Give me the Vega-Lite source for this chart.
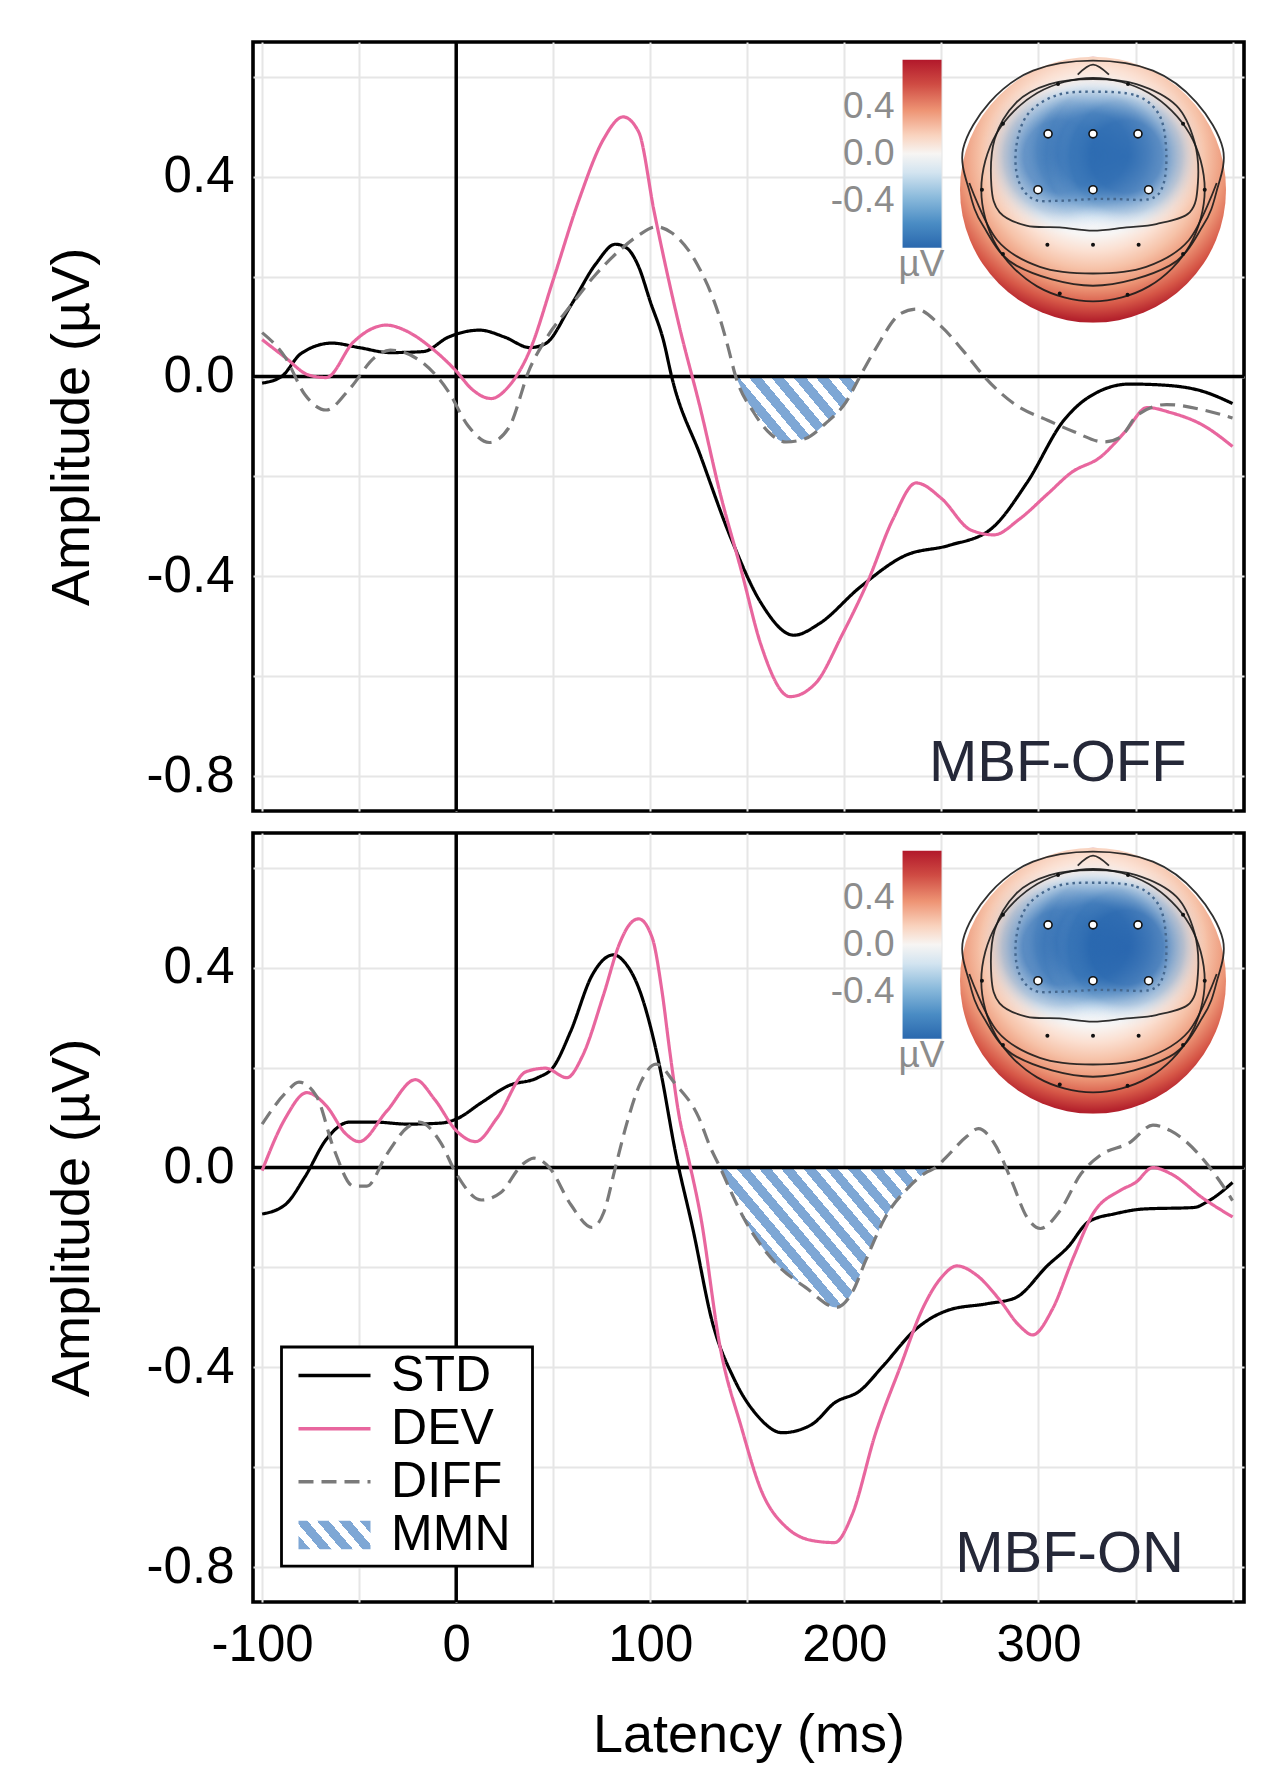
{
  "$schema": "https://vega.github.io/schema/vega-lite/v6.json",
  "background": "white",
  "padding": {"left": 43, "top": 38, "right": 34, "bottom": 28},
  "config": {
    "font": "Liberation Sans",
    "view": {"stroke": "#000000", "strokeWidth": 3.6},
    "axis": {
      "grid": true, "gridColor": "#e6e6e6", "gridWidth": 2,
      "domain": false, "ticks": false, "tickSize": 0,
      "labelFont": "Liberation Sans", "labelFontSize": 51, "labelColor": "#000000",
      "titleFont": "Liberation Sans", "titleFontSize": 54, "titleFontWeight": "normal", "titleColor": "#000000",
      "labelOverlap": false, "labelFlush": false
    }
  },
  "datasets": {
    "off": [
      {"s":"STD","t":-100,"v":-0.013},{"s":"STD","t":-90,"v":0.0},{"s":"STD","t":-80,"v":0.046},{"s":"STD","t":-64,"v":0.067},{"s":"STD","t":-50,"v":0.058},{"s":"STD","t":-34,"v":0.048},{"s":"STD","t":-17,"v":0.05},{"s":"STD","t":-4,"v":0.079},{"s":"STD","t":12,"v":0.093},{"s":"STD","t":25,"v":0.079},{"s":"STD","t":38,"v":0.058},{"s":"STD","t":46,"v":0.066},{"s":"STD","t":59,"v":0.142},{"s":"STD","t":72,"v":0.226},{"s":"STD","t":82,"v":0.265},{"s":"STD","t":88,"v":0.257},{"s":"STD","t":94,"v":0.22},{"s":"STD","t":100,"v":0.15},{"s":"STD","t":107,"v":0.069},{"s":"STD","t":111,"v":0.0},{"s":"STD","t":126,"v":-0.16},{"s":"STD","t":142,"v":-0.328},{"s":"STD","t":157,"v":-0.453},{"s":"STD","t":174,"v":-0.518},{"s":"STD","t":187,"v":-0.495},{"s":"STD","t":208,"v":-0.422},{"s":"STD","t":231,"v":-0.359},{"s":"STD","t":254,"v":-0.338},{"s":"STD","t":275,"v":-0.307},{"s":"STD","t":294,"v":-0.213},{"s":"STD","t":313,"v":-0.088},{"s":"STD","t":326,"v":-0.041},{"s":"STD","t":347,"v":-0.015},{"s":"STD","t":364,"v":-0.017},{"s":"STD","t":385,"v":-0.03},{"s":"STD","t":400,"v":-0.054},
      {"s":"DEV","t":-100,"v":0.074},{"s":"DEV","t":-88,"v":0.038},{"s":"DEV","t":-76,"v":0.003},{"s":"DEV","t":-67,"v":-0.002},{"s":"DEV","t":-53,"v":0.069},{"s":"DEV","t":-36,"v":0.103},{"s":"DEV","t":-25,"v":0.09},{"s":"DEV","t":-13,"v":0.058},{"s":"DEV","t":0,"v":0.011},{"s":"DEV","t":8,"v":-0.025},{"s":"DEV","t":18,"v":-0.044},{"s":"DEV","t":27,"v":-0.02},{"s":"DEV","t":38,"v":0.053},{"s":"DEV","t":50,"v":0.194},{"s":"DEV","t":63,"v":0.351},{"s":"DEV","t":76,"v":0.476},{"s":"DEV","t":86,"v":0.52},{"s":"DEV","t":94,"v":0.49},{"s":"DEV","t":102,"v":0.33},{"s":"DEV","t":115,"v":0.1},{"s":"DEV","t":126,"v":-0.067},{"s":"DEV","t":136,"v":-0.234},{"s":"DEV","t":147,"v":-0.39},{"s":"DEV","t":157,"v":-0.537},{"s":"DEV","t":172,"v":-0.641},{"s":"DEV","t":185,"v":-0.615},{"s":"DEV","t":199,"v":-0.516},{"s":"DEV","t":212,"v":-0.411},{"s":"DEV","t":225,"v":-0.286},{"s":"DEV","t":237,"v":-0.213},{"s":"DEV","t":250,"v":-0.244},{"s":"DEV","t":265,"v":-0.307},{"s":"DEV","t":277,"v":-0.317},{"s":"DEV","t":290,"v":-0.286},{"s":"DEV","t":305,"v":-0.234},{"s":"DEV","t":317,"v":-0.192},{"s":"DEV","t":332,"v":-0.161},{"s":"DEV","t":345,"v":-0.109},{"s":"DEV","t":356,"v":-0.062},{"s":"DEV","t":368,"v":-0.072},{"s":"DEV","t":385,"v":-0.098},{"s":"DEV","t":400,"v":-0.14},
      {"s":"DIFF","t":-100,"v":0.088},{"s":"DIFF","t":-88,"v":0.038},{"s":"DIFF","t":-78,"v":-0.036},{"s":"DIFF","t":-67,"v":-0.067},{"s":"DIFF","t":-55,"v":-0.025},{"s":"DIFF","t":-42,"v":0.038},{"s":"DIFF","t":-34,"v":0.053},{"s":"DIFF","t":-17,"v":0.027},{"s":"DIFF","t":-4,"v":-0.03},{"s":"DIFF","t":6,"v":-0.098},{"s":"DIFF","t":17,"v":-0.132},{"s":"DIFF","t":27,"v":-0.103},{"s":"DIFF","t":38,"v":0.017},{"s":"DIFF","t":46,"v":0.074},{"s":"DIFF","t":59,"v":0.142},{"s":"DIFF","t":72,"v":0.205},{"s":"DIFF","t":84,"v":0.252},{"s":"DIFF","t":94,"v":0.283},{"s":"DIFF","t":103,"v":0.3},{"s":"DIFF","t":111,"v":0.288},{"s":"DIFF","t":124,"v":0.226},{"s":"DIFF","t":136,"v":0.115},{"s":"DIFF","t":140,"v":0.06},{"s":"DIFF","t":144,"v":0.0},{"s":"DIFF","t":153,"v":-0.07},{"s":"DIFF","t":162,"v":-0.115},{"s":"DIFF","t":170,"v":-0.131},{"s":"DIFF","t":180,"v":-0.124},{"s":"DIFF","t":190,"v":-0.095},{"s":"DIFF","t":201,"v":-0.05},{"s":"DIFF","t":208,"v":0.0},{"s":"DIFF","t":216,"v":0.055},{"s":"DIFF","t":229,"v":0.126},{"s":"DIFF","t":237,"v":0.135},{"s":"DIFF","t":250,"v":0.1},{"s":"DIFF","t":262,"v":0.048},{"s":"DIFF","t":273,"v":-0.004},{"s":"DIFF","t":288,"v":-0.056},{"s":"DIFF","t":305,"v":-0.088},{"s":"DIFF","t":318,"v":-0.11},{"s":"DIFF","t":334,"v":-0.131},{"s":"DIFF","t":342,"v":-0.122},{"s":"DIFF","t":351,"v":-0.077},{"s":"DIFF","t":366,"v":-0.056},{"s":"DIFF","t":385,"v":-0.067},{"s":"DIFF","t":400,"v":-0.083}
    ],
    "on": [
      {"s":"STD","t":-100,"v":-0.093},{"s":"STD","t":-88,"v":-0.074},{"s":"STD","t":-78,"v":-0.019},{"s":"STD","t":-67,"v":0.056},{"s":"STD","t":-55,"v":0.091},{"s":"STD","t":-42,"v":0.091},{"s":"STD","t":-25,"v":0.087},{"s":"STD","t":-8,"v":0.089},{"s":"STD","t":0,"v":0.097},{"s":"STD","t":13,"v":0.13},{"s":"STD","t":27,"v":0.164},{"s":"STD","t":42,"v":0.18},{"s":"STD","t":50,"v":0.201},{"s":"STD","t":59,"v":0.273},{"s":"STD","t":70,"v":0.385},{"s":"STD","t":81,"v":0.426},{"s":"STD","t":87,"v":0.41},{"s":"STD","t":94,"v":0.36},{"s":"STD","t":105,"v":0.199},{"s":"STD","t":113,"v":0.03},{"s":"STD","t":122,"v":-0.124},{"s":"STD","t":132,"v":-0.31},{"s":"STD","t":143,"v":-0.422},{"s":"STD","t":155,"v":-0.496},{"s":"STD","t":168,"v":-0.531},{"s":"STD","t":183,"v":-0.515},{"s":"STD","t":195,"v":-0.471},{"s":"STD","t":208,"v":-0.447},{"s":"STD","t":220,"v":-0.397},{"s":"STD","t":237,"v":-0.323},{"s":"STD","t":254,"v":-0.285},{"s":"STD","t":273,"v":-0.273},{"s":"STD","t":288,"v":-0.261},{"s":"STD","t":305,"v":-0.195},{"s":"STD","t":315,"v":-0.16},{"s":"STD","t":326,"v":-0.108},{"s":"STD","t":340,"v":-0.092},{"s":"STD","t":354,"v":-0.083},{"s":"STD","t":380,"v":-0.08},{"s":"STD","t":388,"v":-0.066},{"s":"STD","t":400,"v":-0.03},
      {"s":"DEV","t":-100,"v":-0.006},{"s":"DEV","t":-88,"v":0.099},{"s":"DEV","t":-77,"v":0.15},{"s":"DEV","t":-67,"v":0.124},{"s":"DEV","t":-57,"v":0.068},{"s":"DEV","t":-50,"v":0.052},{"s":"DEV","t":-36,"v":0.112},{"s":"DEV","t":-21,"v":0.176},{"s":"DEV","t":-11,"v":0.136},{"s":"DEV","t":0,"v":0.074},{"s":"DEV","t":10,"v":0.052},{"s":"DEV","t":21,"v":0.099},{"s":"DEV","t":36,"v":0.192},{"s":"DEV","t":46,"v":0.199},{"s":"DEV","t":57,"v":0.18},{"s":"DEV","t":65,"v":0.223},{"s":"DEV","t":76,"v":0.347},{"s":"DEV","t":84,"v":0.447},{"s":"DEV","t":90,"v":0.49},{"s":"DEV","t":94,"v":0.498},{"s":"DEV","t":101,"v":0.46},{"s":"DEV","t":106,"v":0.354},{"s":"DEV","t":110,"v":0.234},{"s":"DEV","t":115,"v":0.1},{"s":"DEV","t":119,"v":0.03},{"s":"DEV","t":126,"v":-0.099},{"s":"DEV","t":136,"v":-0.36},{"s":"DEV","t":147,"v":-0.521},{"s":"DEV","t":157,"v":-0.645},{"s":"DEV","t":170,"v":-0.72},{"s":"DEV","t":185,"v":-0.748},{"s":"DEV","t":195,"v":-0.751},{"s":"DEV","t":204,"v":-0.695},{"s":"DEV","t":216,"v":-0.533},{"s":"DEV","t":229,"v":-0.397},{"s":"DEV","t":240,"v":-0.285},{"s":"DEV","t":250,"v":-0.22},{"s":"DEV","t":258,"v":-0.197},{"s":"DEV","t":268,"v":-0.215},{"s":"DEV","t":280,"v":-0.265},{"s":"DEV","t":290,"v":-0.316},{"s":"DEV","t":297,"v":-0.335},{"s":"DEV","t":307,"v":-0.285},{"s":"DEV","t":318,"v":-0.18},{"s":"DEV","t":328,"v":-0.093},{"s":"DEV","t":342,"v":-0.046},{"s":"DEV","t":350,"v":-0.03},{"s":"DEV","t":359,"v":0.0},{"s":"DEV","t":368,"v":-0.012},{"s":"DEV","t":385,"v":-0.062},{"s":"DEV","t":400,"v":-0.099},
      {"s":"DIFF","t":-100,"v":0.087},{"s":"DIFF","t":-88,"v":0.149},{"s":"DIFF","t":-81,"v":0.171},{"s":"DIFF","t":-72,"v":0.143},{"s":"DIFF","t":-63,"v":0.037},{"s":"DIFF","t":-53,"v":-0.037},{"s":"DIFF","t":-46,"v":-0.037},{"s":"DIFF","t":-36,"v":0.025},{"s":"DIFF","t":-25,"v":0.081},{"s":"DIFF","t":-19,"v":0.091},{"s":"DIFF","t":-8,"v":0.05},{"s":"DIFF","t":0,"v":-0.012},{"s":"DIFF","t":13,"v":-0.065},{"s":"DIFF","t":23,"v":-0.05},{"s":"DIFF","t":34,"v":0.006},{"s":"DIFF","t":40,"v":0.019},{"s":"DIFF","t":48,"v":0.0},{"s":"DIFF","t":59,"v":-0.074},{"s":"DIFF","t":70,"v":-0.12},{"s":"DIFF","t":76,"v":-0.09},{"s":"DIFF","t":82,"v":0.0},{"s":"DIFF","t":88,"v":0.09},{"s":"DIFF","t":95,"v":0.17},{"s":"DIFF","t":103,"v":0.207},{"s":"DIFF","t":113,"v":0.167},{"s":"DIFF","t":125,"v":0.1},{"s":"DIFF","t":131,"v":0.04},{"s":"DIFF","t":136,"v":0.0},{"s":"DIFF","t":140,"v":-0.035},{"s":"DIFF","t":148,"v":-0.1},{"s":"DIFF","t":165,"v":-0.193},{"s":"DIFF","t":180,"v":-0.24},{"s":"DIFF","t":196,"v":-0.28},{"s":"DIFF","t":204,"v":-0.25},{"s":"DIFF","t":211,"v":-0.186},{"s":"DIFF","t":221,"v":-0.1},{"s":"DIFF","t":233,"v":-0.04},{"s":"DIFF","t":242,"v":-0.01},{"s":"DIFF","t":247,"v":0.0},{"s":"DIFF","t":252,"v":0.019},{"s":"DIFF","t":263,"v":0.062},{"s":"DIFF","t":269,"v":0.078},{"s":"DIFF","t":277,"v":0.05},{"s":"DIFF","t":286,"v":-0.025},{"s":"DIFF","t":294,"v":-0.099},{"s":"DIFF","t":301,"v":-0.122},{"s":"DIFF","t":311,"v":-0.087},{"s":"DIFF","t":322,"v":-0.012},{"s":"DIFF","t":332,"v":0.025},{"s":"DIFF","t":347,"v":0.05},{"s":"DIFF","t":359,"v":0.085},{"s":"DIFF","t":368,"v":0.074},{"s":"DIFF","t":383,"v":0.025},{"s":"DIFF","t":393,"v":-0.025},{"s":"DIFF","t":400,"v":-0.066}
    ],
    "head": [
      {"part":"blob","i":0,"hx":-0.25,"hy":0.25},{"part":"blob","i":1,"hx":0,"hy":0.3},{"part":"blob","i":2,"hx":0.25,"hy":0.25},
      {"part":"rim","i":0,"hx":0.84,"hy":0},{"part":"rim","i":1,"hx":0.727,"hy":0.42},{"part":"rim","i":2,"hx":0.42,"hy":0.727},{"part":"rim","i":3,"hx":0,"hy":0.84},{"part":"rim","i":4,"hx":-0.42,"hy":0.727},{"part":"rim","i":5,"hx":-0.727,"hy":0.42},{"part":"rim","i":6,"hx":-0.84,"hy":0},{"part":"rim","i":7,"hx":-0.727,"hy":-0.42},{"part":"rim","i":8,"hx":-0.42,"hy":-0.727},{"part":"rim","i":9,"hx":0,"hy":-0.84},{"part":"rim","i":10,"hx":0.42,"hy":-0.727},{"part":"rim","i":11,"hx":0.727,"hy":-0.42},
      {"part":"outer","i":0,"hx":0,"hy":0.97},{"part":"outer","i":1,"hx":0.451,"hy":0.895},{"part":"outer","i":2,"hx":0.777,"hy":0.657},{"part":"outer","i":3,"hx":0.977,"hy":0.306},{"part":"outer","i":4,"hx":0.927,"hy":-0.02},{"part":"outer","i":5,"hx":0.827,"hy":-0.27},{"part":"outer","i":6,"hx":0.576,"hy":-0.571},{"part":"outer","i":7,"hx":0,"hy":-0.722},{"part":"outer","i":8,"hx":-0.576,"hy":-0.571},{"part":"outer","i":9,"hx":-0.827,"hy":-0.27},{"part":"outer","i":10,"hx":-0.927,"hy":-0.02},{"part":"outer","i":11,"hx":-0.977,"hy":0.306},{"part":"outer","i":12,"hx":-0.777,"hy":0.657},{"part":"outer","i":13,"hx":-0.451,"hy":0.895},
      {"part":"zero","i":0,"hx":-0.764,"hy":0.03},{"part":"zero","i":1,"hx":-0.739,"hy":0.381},{"part":"zero","i":2,"hx":-0.576,"hy":0.657},{"part":"zero","i":3,"hx":-0.326,"hy":0.794},{"part":"zero","i":4,"hx":0,"hy":0.832},{"part":"zero","i":5,"hx":0.326,"hy":0.794},{"part":"zero","i":6,"hx":0.627,"hy":0.632},{"part":"zero","i":7,"hx":0.764,"hy":0.356},{"part":"zero","i":8,"hx":0.789,"hy":0.055},{"part":"zero","i":9,"hx":0.727,"hy":-0.17},{"part":"zero","i":10,"hx":0.476,"hy":-0.258},{"part":"zero","i":11,"hx":0.251,"hy":-0.283},{"part":"zero","i":12,"hx":0,"hy":-0.308},{"part":"zero","i":13,"hx":-0.251,"hy":-0.283},{"part":"zero","i":14,"hx":-0.501,"hy":-0.27},{"part":"zero","i":15,"hx":-0.702,"hy":-0.17},
      {"part":"dotted","i":0,"hx":0,"hy":0.737},{"part":"dotted","i":1,"hx":0.326,"hy":0.707},{"part":"dotted","i":2,"hx":0.501,"hy":0.556},{"part":"dotted","i":3,"hx":0.551,"hy":0.281},{"part":"dotted","i":4,"hx":0.526,"hy":0.03},{"part":"dotted","i":5,"hx":0.426,"hy":-0.07},{"part":"dotted","i":6,"hx":0.175,"hy":-0.07},{"part":"dotted","i":7,"hx":0,"hy":-0.07},{"part":"dotted","i":8,"hx":-0.251,"hy":-0.083},{"part":"dotted","i":9,"hx":-0.451,"hy":-0.07},{"part":"dotted","i":10,"hx":-0.564,"hy":0.08},{"part":"dotted","i":11,"hx":-0.576,"hy":0.331},{"part":"dotted","i":12,"hx":-0.489,"hy":0.569},{"part":"dotted","i":13,"hx":-0.276,"hy":0.709},
      {"part":"lower","i":0,"hx":-0.93,"hy":0.05},{"part":"lower","i":1,"hx":-0.72,"hy":-0.38},{"part":"lower","i":2,"hx":-0.4,"hy":-0.58},{"part":"lower","i":3,"hx":0,"hy":-0.63},{"part":"lower","i":4,"hx":0.4,"hy":-0.58},{"part":"lower","i":5,"hx":0.72,"hy":-0.38},{"part":"lower","i":6,"hx":0.93,"hy":0.05},
      {"part":"nose","i":0,"hx":-0.115,"hy":0.865},{"part":"nose","i":1,"hx":0,"hy":0.94},{"part":"nose","i":2,"hx":0.12,"hy":0.865},
      {"part":"site_white","i":0,"hx":-0.338,"hy":0.42},{"part":"site_white","i":1,"hx":0,"hy":0.42},{"part":"site_white","i":2,"hx":0.338,"hy":0.42},{"part":"site_white","i":3,"hx":-0.414,"hy":0},{"part":"site_white","i":4,"hx":0,"hy":0},{"part":"site_white","i":5,"hx":0.418,"hy":0},
      {"part":"site","i":0,"hx":-0.263,"hy":0.795},{"part":"site","i":1,"hx":0.263,"hy":0.795},{"part":"site","i":2,"hx":-0.677,"hy":0.496},{"part":"site","i":3,"hx":0.677,"hy":0.496},{"part":"site","i":4,"hx":-0.835,"hy":0},{"part":"site","i":5,"hx":0.84,"hy":0},{"part":"site","i":6,"hx":-0.343,"hy":-0.414},{"part":"site","i":7,"hx":0,"hy":-0.414},{"part":"site","i":8,"hx":0.343,"hy":-0.414},{"part":"site","i":9,"hx":-0.677,"hy":-0.484},{"part":"site","i":10,"hx":0.677,"hy":-0.484},{"part":"site","i":11,"hx":-0.25,"hy":-0.78},{"part":"site","i":12,"hx":0.26,"hy":-0.79}
    ],
    "cbar": [
      {"v":0.4,"lab":"0.4"},{"v":0,"lab":"0.0"},{"v":-0.4,"lab":"-0.4"}
    ],
    "keys": [
      {"s":"STD","k":0},{"s":"DEV","k":1},{"s":"DIFF","k":2},{"s":"MMN","k":3}
    ]
  },
  "spacing": 22,
  "bounds": "flush",
  "resolve": {
    "scale": {"x":"independent","y":"independent","color":"independent","strokeDash":"independent"},
    "axis": {"x":"independent","y":"independent"}
  },
  "vconcat": [
    {
      "width": 991, "height": 769,
      "resolve": {"scale": {"x":"independent","y":"independent"}},
      "layer": [
        {
          "data": {"name": "off"},
          "transform": [{"filter": "datum.s === 'DIFF' && datum.t >= 144 && datum.t <= 208"}],
          "mark": {"type":"area","interpolate":"monotone","fill":{"gradient":"linear","x1":0,"y1":1,"x2":1.206,"y2":0.469,"stops":[
            {"offset":0,"color":"#7ea7d5"},{"offset":0.069,"color":"#7ea7d5"},{"offset":0.069,"color":"#ffffff"},{"offset":0.125,"color":"#ffffff"},
            {"offset":0.125,"color":"#7ea7d5"},{"offset":0.194,"color":"#7ea7d5"},{"offset":0.194,"color":"#ffffff"},{"offset":0.25,"color":"#ffffff"},
            {"offset":0.25,"color":"#7ea7d5"},{"offset":0.319,"color":"#7ea7d5"},{"offset":0.319,"color":"#ffffff"},{"offset":0.375,"color":"#ffffff"},
            {"offset":0.375,"color":"#7ea7d5"},{"offset":0.444,"color":"#7ea7d5"},{"offset":0.444,"color":"#ffffff"},{"offset":0.5,"color":"#ffffff"},
            {"offset":0.5,"color":"#7ea7d5"},{"offset":0.569,"color":"#7ea7d5"},{"offset":0.569,"color":"#ffffff"},{"offset":0.625,"color":"#ffffff"},
            {"offset":0.625,"color":"#7ea7d5"},{"offset":0.694,"color":"#7ea7d5"},{"offset":0.694,"color":"#ffffff"},{"offset":0.75,"color":"#ffffff"},
            {"offset":0.75,"color":"#7ea7d5"},{"offset":0.819,"color":"#7ea7d5"},{"offset":0.819,"color":"#ffffff"},{"offset":0.875,"color":"#ffffff"},
            {"offset":0.875,"color":"#7ea7d5"},{"offset":0.944,"color":"#7ea7d5"},{"offset":0.944,"color":"#ffffff"},{"offset":1,"color":"#ffffff"}]}},
          "encoding": {
            "x": {"field":"t","type":"quantitative","scale":{"domain":[-104.7,405.9],"nice":false,"zero":false},"axis":null},
            "y": {"field":"v","type":"quantitative","scale":{"domain":[-0.87,0.67],"nice":false,"zero":false},"axis":null},
            "y2": {"datum": 0}
          }
        },
        {
          "data": {"values": [{}]},
          "mark": {"type":"rule","color":"#000000","strokeWidth":3.5},
          "encoding": {"x": {"datum":0,"type":"quantitative","scale":{"domain":[-104.7,405.9],"nice":false,"zero":false},"axis":null}}
        },
        {
          "data": {"values": [{}]},
          "mark": {"type":"rule","color":"#000000","strokeWidth":3.5},
          "encoding": {"y": {"datum":0,"type":"quantitative","scale":{"domain":[-0.87,0.67],"nice":false,"zero":false},"axis":null}}
        },
        {
          "data": {"name": "off"},
          "mark": {"type":"line","interpolate":"monotone","strokeWidth":3.2},
          "encoding": {
            "x": {"field":"t","type":"quantitative","scale":{"domain":[-104.7,405.9],"nice":false,"zero":false},
                  "axis":{"values":[-100,-50,0,50,100,150,200,250,300,350,400],"grid":true,"labels":false,"title":null}},
            "y": {"field":"v","type":"quantitative","scale":{"domain":[-0.87,0.67],"nice":false,"zero":false},
                  "axis":{"values":[-0.8,-0.6,-0.4,-0.2,0,0.2,0.4,0.6],"grid":true,
                          "labelExpr":"round(datum.value*10) % 4 === 0 ? (datum.value < 0 ? '-' : '') + format(abs(datum.value), '.1f') : ''",
                          "title":"Amplitude (µV)","labelPadding":19,"titlePadding":47}},
            "color": {"field":"s","type":"nominal","scale":{"domain":["STD","DEV","DIFF","MMN"],"range":["#000000","#e8669e","#7a7a7a","#7ea7d5"]},"legend":null},
            "strokeDash": {"field":"s","type":"nominal","scale":{"domain":["STD","DEV","DIFF","MMN"],"range":[[1,0],[1,0],[15,8],[1,0]]},"legend":null}
          }
        },
        {
          "data": {"values": [{"label":"MBF-OFF"}]},
          "mark": {"type":"text","fontSize":58,"color":"#252838","align":"center","baseline":"middle"},
          "encoding": {
            "x": {"datum":310,"type":"quantitative","scale":{"domain":[-104.7,405.9],"nice":false,"zero":false},"axis":null},
            "y": {"datum":-0.775,"type":"quantitative","scale":{"domain":[-0.87,0.67],"nice":false,"zero":false},"axis":null},
            "text": {"field":"label"}
          }
        },
        {
          "data": {"name": "head"},
          "layer": [
            {
              "data": {"values": [{}]},
              "mark": {"type":"point","shape":"circle","size":70756,"filled":true,"opacity":1,"strokeWidth":0,
                       "fill":{"gradient":"radial","x1":0.5,"y1":0.42,"r1":0,"x2":0.5,"y2":0.35,"r2":0.67,"stops":[
                         {"offset":0,"color":"#e6eef6"},{"offset":0.3,"color":"#eef3f8"},{"offset":0.42,"color":"#f8f6f5"},
                         {"offset":0.52,"color":"#fbe0d2"},{"offset":0.63,"color":"#f6c2a8"},{"offset":0.75,"color":"#ec9576"},
                         {"offset":0.86,"color":"#d65747"},{"offset":0.95,"color":"#b5232d"},{"offset":1,"color":"#a5182a"}]}},
              "encoding": {
                "x": {"datum":0,"type":"quantitative","scale":{"domain":[-6.3158,1.1353],"nice":false,"zero":false},"axis":null},
                "y": {"datum":0,"type":"quantitative","scale":{"domain":[-4.6714,1.1105],"nice":false,"zero":false},"axis":null}
              }
            },
            {
              "transform": [{"filter": {"field":"part","equal":"blob"}}],
              "mark": {"type":"point","shape":"circle","size":25600,"filled":true,"opacity":1,"strokeWidth":0,
                       "fill":{"gradient":"radial","x1":0.5,"y1":0.5,"r1":0,"x2":0.5,"y2":0.5,"r2":0.5,"stops":[
                         {"offset":0,"color":"rgba(40,104,176,0.85)"},{"offset":0.45,"color":"rgba(45,108,178,0.75)"},
                         {"offset":0.7,"color":"rgba(70,130,190,0.35)"},{"offset":0.85,"color":"rgba(150,190,225,0.12)"},
                         {"offset":1,"color":"rgba(255,255,255,0)"}]}},
              "encoding": {
                "x": {"field":"hx","type":"quantitative","scale":{"domain":[-6.3158,1.1353],"nice":false,"zero":false},"axis":null},
                "y": {"field":"hy","type":"quantitative","scale":{"domain":[-4.6714,1.1105],"nice":false,"zero":false},"axis":null}
              }
            },
            {
              "transform": [{"filter": {"field":"part","oneOf":["rim","outer","zero"]}}],
              "mark": {"type":"line","interpolate":"cardinal-closed","color":"#1a1a1a","strokeWidth":1.8,"opacity":0.9},
              "encoding": {
                "x": {"field":"hx","type":"quantitative","scale":{"domain":[-6.3158,1.1353],"nice":false,"zero":false},"axis":null},
                "y": {"field":"hy","type":"quantitative","scale":{"domain":[-4.6714,1.1105],"nice":false,"zero":false},"axis":null},
                "detail": {"field":"part"},
                "order": {"field":"i","type":"quantitative"}
              }
            },
            {
              "transform": [{"filter": {"field":"part","oneOf":["lower","nose"]}}],
              "mark": {"type":"line","interpolate":"cardinal","color":"#1a1a1a","strokeWidth":1.8,"opacity":0.9},
              "encoding": {
                "x": {"field":"hx","type":"quantitative","scale":{"domain":[-6.3158,1.1353],"nice":false,"zero":false},"axis":null},
                "y": {"field":"hy","type":"quantitative","scale":{"domain":[-4.6714,1.1105],"nice":false,"zero":false},"axis":null},
                "detail": {"field":"part"},
                "order": {"field":"i","type":"quantitative"}
              }
            },
            {
              "transform": [{"filter": {"field":"part","equal":"dotted"}}],
              "mark": {"type":"line","interpolate":"cardinal-closed","color":"#46688e","strokeWidth":2.4,"strokeDash":[2.5,4]},
              "encoding": {
                "x": {"field":"hx","type":"quantitative","scale":{"domain":[-6.3158,1.1353],"nice":false,"zero":false},"axis":null},
                "y": {"field":"hy","type":"quantitative","scale":{"domain":[-4.6714,1.1105],"nice":false,"zero":false},"axis":null},
                "order": {"field":"i","type":"quantitative"}
              }
            },
            {
              "transform": [{"filter": {"field":"part","equal":"site_white"}}],
              "mark": {"type":"point","shape":"circle","size":64,"filled":true,"opacity":1,"fill":"#ffffff","stroke":"#111111","strokeWidth":1.6},
              "encoding": {
                "x": {"field":"hx","type":"quantitative","scale":{"domain":[-6.3158,1.1353],"nice":false,"zero":false},"axis":null},
                "y": {"field":"hy","type":"quantitative","scale":{"domain":[-4.6714,1.1105],"nice":false,"zero":false},"axis":null}
              }
            },
            {
              "transform": [{"filter": {"field":"part","equal":"site"}}],
              "mark": {"type":"point","shape":"circle","size":16,"filled":true,"opacity":1,"color":"#111111"},
              "encoding": {
                "x": {"field":"hx","type":"quantitative","scale":{"domain":[-6.3158,1.1353],"nice":false,"zero":false},"axis":null},
                "y": {"field":"hy","type":"quantitative","scale":{"domain":[-4.6714,1.1105],"nice":false,"zero":false},"axis":null}
              }
            }
          ]
        },
        {
          "data": {"name": "cbar"},
          "layer": [
            {
              "data": {"values": [{}]},
              "mark": {"type":"rect","fill":{"gradient":"linear","x1":0,"y1":0,"x2":0,"y2":1,"stops":[
                {"offset":0,"color":"#b2182b"},{"offset":0.13,"color":"#cf4b43"},{"offset":0.27,"color":"#ee9474"},{"offset":0.4,"color":"#f9d2bd"},
                {"offset":0.5,"color":"#f7f5f3"},{"offset":0.6,"color":"#d3e4f0"},{"offset":0.73,"color":"#8cbbdc"},{"offset":0.87,"color":"#4a8cc4"},{"offset":1,"color":"#2a68ae"}]}},
              "encoding": {
                "x": {"datum":-1.432,"type":"quantitative","scale":{"domain":[-6.3158,1.1353],"nice":false,"zero":false},"axis":null},
                "x2": {"datum":-1.139},
                "y": {"datum":0.8,"type":"quantitative","scale":{"domain":[-5.594,0.9506],"nice":false,"zero":false},"axis":null},
                "y2": {"datum":-0.8}
              }
            },
            {
              "mark": {"type":"text","align":"right","baseline":"middle","fontSize":37,"color":"#8c8c8c"},
              "encoding": {
                "x": {"datum":-1.4925,"type":"quantitative","scale":{"domain":[-6.3158,1.1353],"nice":false,"zero":false},"axis":null},
                "y": {"field":"v","type":"quantitative","scale":{"domain":[-5.594,0.9506],"nice":false,"zero":false},"axis":null},
                "text": {"field":"lab"}
              }
            },
            {
              "data": {"values": [{"unit":"µV"}]},
              "mark": {"type":"text","align":"center","baseline":"middle","fontSize":37,"color":"#8c8c8c"},
              "encoding": {
                "x": {"datum":-1.2895,"type":"quantitative","scale":{"domain":[-6.3158,1.1353],"nice":false,"zero":false},"axis":null},
                "y": {"datum":-0.95,"type":"quantitative","scale":{"domain":[-5.594,0.9506],"nice":false,"zero":false},"axis":null},
                "text": {"field":"unit"}
              }
            }
          ]
        }
      ]
    },
    {
      "width": 991, "height": 769,
      "resolve": {"scale": {"x":"independent","y":"independent"}},
      "layer": [
        {
          "data": {"name": "on"},
          "transform": [{"filter": "datum.s === 'DIFF' && datum.t >= 136 && datum.t <= 247"}],
          "mark": {"type":"area","interpolate":"monotone","fill":{"gradient":"linear","x1":0,"y1":1,"x2":1.191,"y2":0.35,"stops":[
            {"offset":0,"color":"#7ea7d5"},{"offset":0.037,"color":"#7ea7d5"},{"offset":0.037,"color":"#ffffff"},{"offset":0.067,"color":"#ffffff"},
            {"offset":0.067,"color":"#7ea7d5"},{"offset":0.103,"color":"#7ea7d5"},{"offset":0.103,"color":"#ffffff"},{"offset":0.133,"color":"#ffffff"},
            {"offset":0.133,"color":"#7ea7d5"},{"offset":0.17,"color":"#7ea7d5"},{"offset":0.17,"color":"#ffffff"},{"offset":0.2,"color":"#ffffff"},
            {"offset":0.2,"color":"#7ea7d5"},{"offset":0.237,"color":"#7ea7d5"},{"offset":0.237,"color":"#ffffff"},{"offset":0.267,"color":"#ffffff"},
            {"offset":0.267,"color":"#7ea7d5"},{"offset":0.303,"color":"#7ea7d5"},{"offset":0.303,"color":"#ffffff"},{"offset":0.333,"color":"#ffffff"},
            {"offset":0.333,"color":"#7ea7d5"},{"offset":0.37,"color":"#7ea7d5"},{"offset":0.37,"color":"#ffffff"},{"offset":0.4,"color":"#ffffff"},
            {"offset":0.4,"color":"#7ea7d5"},{"offset":0.437,"color":"#7ea7d5"},{"offset":0.437,"color":"#ffffff"},{"offset":0.467,"color":"#ffffff"},
            {"offset":0.467,"color":"#7ea7d5"},{"offset":0.503,"color":"#7ea7d5"},{"offset":0.503,"color":"#ffffff"},{"offset":0.533,"color":"#ffffff"},
            {"offset":0.533,"color":"#7ea7d5"},{"offset":0.57,"color":"#7ea7d5"},{"offset":0.57,"color":"#ffffff"},{"offset":0.6,"color":"#ffffff"},
            {"offset":0.6,"color":"#7ea7d5"},{"offset":0.637,"color":"#7ea7d5"},{"offset":0.637,"color":"#ffffff"},{"offset":0.667,"color":"#ffffff"},
            {"offset":0.667,"color":"#7ea7d5"},{"offset":0.703,"color":"#7ea7d5"},{"offset":0.703,"color":"#ffffff"},{"offset":0.733,"color":"#ffffff"},
            {"offset":0.733,"color":"#7ea7d5"},{"offset":0.77,"color":"#7ea7d5"},{"offset":0.77,"color":"#ffffff"},{"offset":0.8,"color":"#ffffff"},
            {"offset":0.8,"color":"#7ea7d5"},{"offset":0.837,"color":"#7ea7d5"},{"offset":0.837,"color":"#ffffff"},{"offset":0.867,"color":"#ffffff"},
            {"offset":0.867,"color":"#7ea7d5"},{"offset":0.903,"color":"#7ea7d5"},{"offset":0.903,"color":"#ffffff"},{"offset":0.933,"color":"#ffffff"},
            {"offset":0.933,"color":"#7ea7d5"},{"offset":0.97,"color":"#7ea7d5"},{"offset":0.97,"color":"#ffffff"},{"offset":1,"color":"#ffffff"}]}},
          "encoding": {
            "x": {"field":"t","type":"quantitative","scale":{"domain":[-104.7,405.9],"nice":false,"zero":false},"axis":null},
            "y": {"field":"v","type":"quantitative","scale":{"domain":[-0.87,0.67],"nice":false,"zero":false},"axis":null},
            "y2": {"datum": 0}
          }
        },
        {
          "data": {"values": [{}]},
          "mark": {"type":"rule","color":"#000000","strokeWidth":3.5},
          "encoding": {"x": {"datum":0,"type":"quantitative","scale":{"domain":[-104.7,405.9],"nice":false,"zero":false},"axis":null}}
        },
        {
          "data": {"values": [{}]},
          "mark": {"type":"rule","color":"#000000","strokeWidth":3.5},
          "encoding": {"y": {"datum":0,"type":"quantitative","scale":{"domain":[-0.87,0.67],"nice":false,"zero":false},"axis":null}}
        },
        {
          "data": {"name": "on"},
          "mark": {"type":"line","interpolate":"monotone","strokeWidth":3.2},
          "encoding": {
            "x": {"field":"t","type":"quantitative","scale":{"domain":[-104.7,405.9],"nice":false,"zero":false},
                  "axis":{"values":[-100,-50,0,50,100,150,200,250,300,350,400],"grid":true,
                          "labelExpr":"datum.value % 100 === 0 && datum.value < 400 ? (datum.value < 0 ? '-' : '') + format(abs(datum.value), 'd') : ''",
                          "title":"Latency (ms)","labelPadding":18,"titlePadding":38}},
            "y": {"field":"v","type":"quantitative","scale":{"domain":[-0.87,0.67],"nice":false,"zero":false},
                  "axis":{"values":[-0.8,-0.6,-0.4,-0.2,0,0.2,0.4,0.6],"grid":true,
                          "labelExpr":"round(datum.value*10) % 4 === 0 ? (datum.value < 0 ? '-' : '') + format(abs(datum.value), '.1f') : ''",
                          "title":"Amplitude (µV)","labelPadding":19,"titlePadding":47}},
            "color": {"field":"s","type":"nominal","scale":{"domain":["STD","DEV","DIFF","MMN"],"range":["#000000","#e8669e","#7a7a7a","#7ea7d5"]},"legend":null},
            "strokeDash": {"field":"s","type":"nominal","scale":{"domain":["STD","DEV","DIFF","MMN"],"range":[[1,0],[1,0],[15,8],[1,0]]},"legend":null}
          }
        },
        {
          "data": {"values": [{"label":"MBF-ON"}]},
          "mark": {"type":"text","fontSize":58,"color":"#252838","align":"center","baseline":"middle"},
          "encoding": {
            "x": {"datum":316,"type":"quantitative","scale":{"domain":[-104.7,405.9],"nice":false,"zero":false},"axis":null},
            "y": {"datum":-0.775,"type":"quantitative","scale":{"domain":[-0.87,0.67],"nice":false,"zero":false},"axis":null},
            "text": {"field":"label"}
          }
        },
        {
          "data": {"name": "head"},
          "layer": [
            {
              "data": {"values": [{}]},
              "mark": {"type":"point","shape":"circle","size":70756,"filled":true,"opacity":1,"strokeWidth":0,
                       "fill":{"gradient":"radial","x1":0.5,"y1":0.42,"r1":0,"x2":0.5,"y2":0.35,"r2":0.67,"stops":[
                         {"offset":0,"color":"#e6eef6"},{"offset":0.3,"color":"#eef3f8"},{"offset":0.42,"color":"#f8f6f5"},
                         {"offset":0.52,"color":"#fbe0d2"},{"offset":0.63,"color":"#f6c2a8"},{"offset":0.75,"color":"#ec9576"},
                         {"offset":0.86,"color":"#d65747"},{"offset":0.95,"color":"#b5232d"},{"offset":1,"color":"#a5182a"}]}},
              "encoding": {
                "x": {"datum":0,"type":"quantitative","scale":{"domain":[-6.3158,1.1353],"nice":false,"zero":false},"axis":null},
                "y": {"datum":0,"type":"quantitative","scale":{"domain":[-4.6714,1.1105],"nice":false,"zero":false},"axis":null}
              }
            },
            {
              "transform": [{"filter": {"field":"part","equal":"blob"}}],
              "mark": {"type":"point","shape":"circle","size":27000,"filled":true,"opacity":1,"strokeWidth":0,
                       "fill":{"gradient":"radial","x1":0.5,"y1":0.5,"r1":0,"x2":0.5,"y2":0.5,"r2":0.5,"stops":[
                         {"offset":0,"color":"rgba(38,100,174,0.9)"},{"offset":0.45,"color":"rgba(42,105,176,0.8)"},
                         {"offset":0.7,"color":"rgba(70,130,190,0.38)"},{"offset":0.85,"color":"rgba(150,190,225,0.12)"},
                         {"offset":1,"color":"rgba(255,255,255,0)"}]}},
              "encoding": {
                "x": {"field":"hx","type":"quantitative","scale":{"domain":[-6.3158,1.1353],"nice":false,"zero":false},"axis":null},
                "y": {"field":"hy","type":"quantitative","scale":{"domain":[-4.6714,1.1105],"nice":false,"zero":false},"axis":null}
              }
            },
            {
              "transform": [{"filter": {"field":"part","oneOf":["rim","outer","zero"]}}],
              "mark": {"type":"line","interpolate":"cardinal-closed","color":"#1a1a1a","strokeWidth":1.8,"opacity":0.9},
              "encoding": {
                "x": {"field":"hx","type":"quantitative","scale":{"domain":[-6.3158,1.1353],"nice":false,"zero":false},"axis":null},
                "y": {"field":"hy","type":"quantitative","scale":{"domain":[-4.6714,1.1105],"nice":false,"zero":false},"axis":null},
                "detail": {"field":"part"},
                "order": {"field":"i","type":"quantitative"}
              }
            },
            {
              "transform": [{"filter": {"field":"part","oneOf":["lower","nose"]}}],
              "mark": {"type":"line","interpolate":"cardinal","color":"#1a1a1a","strokeWidth":1.8,"opacity":0.9},
              "encoding": {
                "x": {"field":"hx","type":"quantitative","scale":{"domain":[-6.3158,1.1353],"nice":false,"zero":false},"axis":null},
                "y": {"field":"hy","type":"quantitative","scale":{"domain":[-4.6714,1.1105],"nice":false,"zero":false},"axis":null},
                "detail": {"field":"part"},
                "order": {"field":"i","type":"quantitative"}
              }
            },
            {
              "transform": [{"filter": {"field":"part","equal":"dotted"}}],
              "mark": {"type":"line","interpolate":"cardinal-closed","color":"#46688e","strokeWidth":2.4,"strokeDash":[2.5,4]},
              "encoding": {
                "x": {"field":"hx","type":"quantitative","scale":{"domain":[-6.3158,1.1353],"nice":false,"zero":false},"axis":null},
                "y": {"field":"hy","type":"quantitative","scale":{"domain":[-4.6714,1.1105],"nice":false,"zero":false},"axis":null},
                "order": {"field":"i","type":"quantitative"}
              }
            },
            {
              "transform": [{"filter": {"field":"part","equal":"site_white"}}],
              "mark": {"type":"point","shape":"circle","size":64,"filled":true,"opacity":1,"fill":"#ffffff","stroke":"#111111","strokeWidth":1.6},
              "encoding": {
                "x": {"field":"hx","type":"quantitative","scale":{"domain":[-6.3158,1.1353],"nice":false,"zero":false},"axis":null},
                "y": {"field":"hy","type":"quantitative","scale":{"domain":[-4.6714,1.1105],"nice":false,"zero":false},"axis":null}
              }
            },
            {
              "transform": [{"filter": {"field":"part","equal":"site"}}],
              "mark": {"type":"point","shape":"circle","size":16,"filled":true,"opacity":1,"color":"#111111"},
              "encoding": {
                "x": {"field":"hx","type":"quantitative","scale":{"domain":[-6.3158,1.1353],"nice":false,"zero":false},"axis":null},
                "y": {"field":"hy","type":"quantitative","scale":{"domain":[-4.6714,1.1105],"nice":false,"zero":false},"axis":null}
              }
            }
          ]
        },
        {
          "data": {"name": "cbar"},
          "layer": [
            {
              "data": {"values": [{}]},
              "mark": {"type":"rect","fill":{"gradient":"linear","x1":0,"y1":0,"x2":0,"y2":1,"stops":[
                {"offset":0,"color":"#b2182b"},{"offset":0.13,"color":"#cf4b43"},{"offset":0.27,"color":"#ee9474"},{"offset":0.4,"color":"#f9d2bd"},
                {"offset":0.5,"color":"#f7f5f3"},{"offset":0.6,"color":"#d3e4f0"},{"offset":0.73,"color":"#8cbbdc"},{"offset":0.87,"color":"#4a8cc4"},{"offset":1,"color":"#2a68ae"}]}},
              "encoding": {
                "x": {"datum":-1.432,"type":"quantitative","scale":{"domain":[-6.3158,1.1353],"nice":false,"zero":false},"axis":null},
                "x2": {"datum":-1.139},
                "y": {"datum":0.8,"type":"quantitative","scale":{"domain":[-5.594,0.9506],"nice":false,"zero":false},"axis":null},
                "y2": {"datum":-0.8}
              }
            },
            {
              "mark": {"type":"text","align":"right","baseline":"middle","fontSize":37,"color":"#8c8c8c"},
              "encoding": {
                "x": {"datum":-1.4925,"type":"quantitative","scale":{"domain":[-6.3158,1.1353],"nice":false,"zero":false},"axis":null},
                "y": {"field":"v","type":"quantitative","scale":{"domain":[-5.594,0.9506],"nice":false,"zero":false},"axis":null},
                "text": {"field":"lab"}
              }
            },
            {
              "data": {"values": [{"unit":"µV"}]},
              "mark": {"type":"text","align":"center","baseline":"middle","fontSize":37,"color":"#8c8c8c"},
              "encoding": {
                "x": {"datum":-1.2895,"type":"quantitative","scale":{"domain":[-6.3158,1.1353],"nice":false,"zero":false},"axis":null},
                "y": {"datum":-0.95,"type":"quantitative","scale":{"domain":[-5.594,0.9506],"nice":false,"zero":false},"axis":null},
                "text": {"field":"unit"}
              }
            }
          ]
        },
        {
          "data": {"name": "keys"},
          "layer": [
            {
              "data": {"values": [{}]},
              "mark": {"type":"rect","fill":"#ffffff","stroke":"#000000","strokeWidth":2.8},
              "encoding": {
                "x": {"datum":0,"type":"quantitative","scale":{"domain":[-0.11355,3.83466],"nice":false,"zero":false},"axis":null},
                "x2": {"datum":1},
                "y": {"datum":-0.538,"type":"quantitative","scale":{"domain":[-10.2127,4.2611],"nice":false,"zero":false,"reverse":true},"axis":null},
                "y2": {"datum":3.584}
              }
            },
            {
              "transform": [{"filter": "datum.s !== 'MMN'"}],
              "mark": {"type":"rule","strokeWidth":3.5},
              "encoding": {
                "x": {"datum":0.0677,"type":"quantitative","scale":{"domain":[-0.11355,3.83466],"nice":false,"zero":false},"axis":null},
                "x2": {"datum":0.3546},
                "y": {"field":"k","type":"quantitative","scale":{"domain":[-10.2127,4.2611],"nice":false,"zero":false,"reverse":true},"axis":null},
                "color": {"field":"s","type":"nominal","scale":{"domain":["STD","DEV","DIFF","MMN"],"range":["#000000","#e8669e","#7a7a7a","#7ea7d5"]},"legend":null},
                "strokeDash": {"field":"s","type":"nominal","scale":{"domain":["STD","DEV","DIFF","MMN"],"range":[[1,0],[1,0],[15,8],[1,0]]},"legend":null}
              }
            },
            {
              "data": {"values": [{}]},
              "mark": {"type":"rect","fill":{"gradient":"linear","x1":0,"y1":1,"x2":1.2,"y2":0.594,"stops":[
                {"offset":0,"color":"#7ea7d5"},{"offset":0.122,"color":"#7ea7d5"},{"offset":0.122,"color":"#ffffff"},{"offset":0.222,"color":"#ffffff"},
                {"offset":0.222,"color":"#7ea7d5"},{"offset":0.344,"color":"#7ea7d5"},{"offset":0.344,"color":"#ffffff"},{"offset":0.444,"color":"#ffffff"},
                {"offset":0.444,"color":"#7ea7d5"},{"offset":0.567,"color":"#7ea7d5"},{"offset":0.567,"color":"#ffffff"},{"offset":0.667,"color":"#ffffff"},
                {"offset":0.667,"color":"#7ea7d5"},{"offset":0.789,"color":"#7ea7d5"},{"offset":0.789,"color":"#ffffff"},{"offset":0.889,"color":"#ffffff"},
                {"offset":0.889,"color":"#7ea7d5"},{"offset":1,"color":"#7ea7d5"}]}},
              "encoding": {
                "x": {"datum":0.0677,"type":"quantitative","scale":{"domain":[-0.11355,3.83466],"nice":false,"zero":false},"axis":null},
                "x2": {"datum":0.3546},
                "y": {"datum":2.73,"type":"quantitative","scale":{"domain":[-10.2127,4.2611],"nice":false,"zero":false,"reverse":true},"axis":null},
                "y2": {"datum":3.27}
              }
            },
            {
              "mark": {"type":"text","align":"left","baseline":"middle","fontSize":50,"color":"#000000"},
              "encoding": {
                "x": {"datum":0.4367,"type":"quantitative","scale":{"domain":[-0.11355,3.83466],"nice":false,"zero":false},"axis":null},
                "y": {"field":"k","type":"quantitative","scale":{"domain":[-10.2127,4.2611],"nice":false,"zero":false,"reverse":true},"axis":null},
                "text": {"field":"s"}
              }
            }
          ]
        }
      ]
    }
  ]
}
